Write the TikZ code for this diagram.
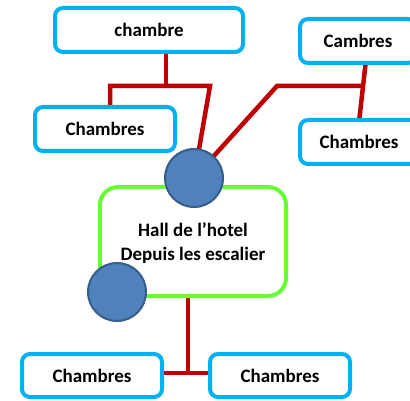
\documentclass[tikz,border=0pt]{standalone}
\usepackage{fontspec}
\setmainfont{Carlito}
\definecolor{bluebd}{RGB}{0,176,240}
\definecolor{redln}{RGB}{192,0,0}
\definecolor{greenbd}{RGB}{102,255,51}
\definecolor{dotfill}{RGB}{79,129,189}
\definecolor{dotbd}{RGB}{56,93,138}
\pgfdeclarelayer{background}
\pgfsetlayers{background,main}
\begin{document}
\begin{tikzpicture}[x=1pt,y=-1pt,
  room/.style={draw=bluebd, line width=4pt, rounded corners=8pt, fill=white,
    font=\bfseries\fontsize{19}{22}\selectfont, inner sep=0pt,
    minimum height=44pt},
  hall/.style={draw=greenbd, line width=4pt, rounded corners=18pt, fill=white,
    inner sep=0pt, minimum width=186pt, minimum height=109pt},
  halltext/.style={font=\bfseries\fontsize{19}{24}\selectfont, align=center, inner sep=0pt},
  link/.style={draw=redln, line width=4.5pt},
  dot/.style={circle, fill=dotfill, draw=dotbd, line width=2pt,
    minimum size=58pt, inner sep=0pt}]
\clip (0,0) rectangle (410,401);
\useasboundingbox (0,0) rectangle (410,401);
% boxes
\node[room, minimum width=188pt] (top) at (149,30) {chambre};
\node[room, minimum width=140pt] (ml) at (105,129) {Chambres};
\node[room, minimum width=116pt] (tr) at (358,41) {Cambres};
\node[room, minimum width=118pt] (mr) at (359,142) {Chambres};
\node[hall] (hall) at (193,241.5) {};
\node[halltext] (halltxt) at (193,243) {Hall de l’hotel\\Depuis les escalier};
\node[room, minimum width=140pt, minimum height=43pt] (bl) at (92,375.5) {Chambres};
\node[room, minimum width=140pt, minimum height=43pt] (br) at (280,375.5) {Chambres};
% circles
\node[dot] (c1) at (194,178) {};
\node[dot] (c2) at (117,292) {};
% junction points
\coordinate (j1) at (166,86);
\coordinate (jl) at (110,86);
\coordinate (jr) at (210,86);
\coordinate (k1) at (277,86);
\coordinate (k2) at (363,86);
\coordinate (r1) at (366,60);
\coordinate (r2) at (359,122);
\coordinate (b1) at (188,373);
\coordinate (bl1) at (160,373);
\coordinate (br1) at (212,373);
\begin{pgfonlayer}{background}
\draw[link] (j1 |- top.south) -- (j1);
\draw[link] (ml.north -| jl) -- (jl) -- (jr) -- (c1.center);
\draw[link] (c1.center) -- (k1) -- (k2);
\draw[link] (r1) -- (r2);
\draw[link] (b1 |- hall.south) -- (b1);
\draw[link] (bl1) -- (br1);
\end{pgfonlayer}
\end{tikzpicture}
\end{document}
